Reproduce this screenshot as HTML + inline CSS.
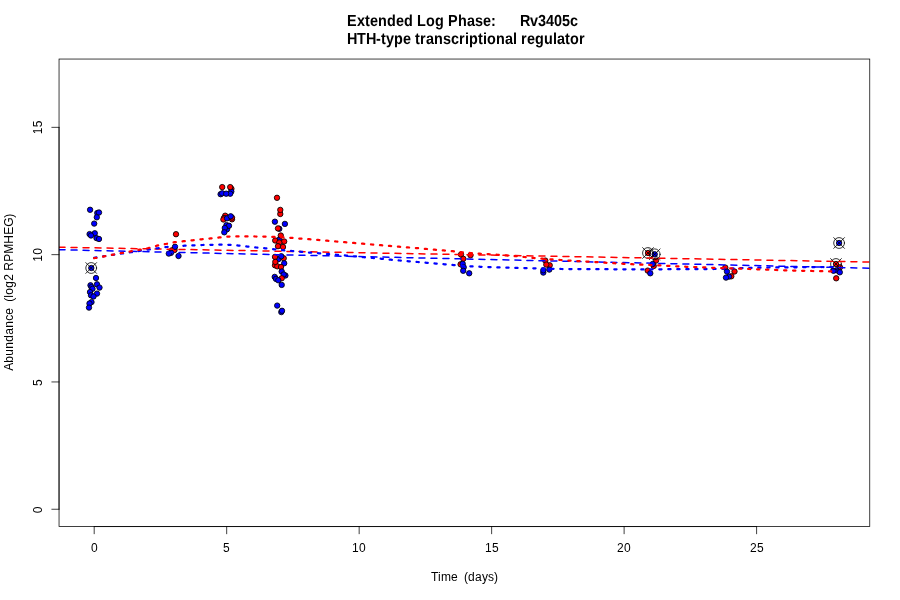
<!DOCTYPE html>
<html lang="en">
<head>
<meta charset="utf-8">
<title>Extended Log Phase: Rv3405c</title>
<style>
html,body{margin:0;padding:0;background:#fff;}
body{width:900px;height:600px;overflow:hidden;}
text{white-space:pre;}
svg{display:block;font-family:"Liberation Sans",Arial,Helvetica,sans-serif;}
.ax{stroke:#000;stroke-width:0.75;fill:none;stroke-linecap:round;}
.lab{font-size:12px;fill:#000;}
.ttl{font-weight:bold;fill:#000;text-rendering:geometricPrecision;}
.pt circle{stroke:#000;stroke-width:0.85;}
.r{fill:#f00;}
.b{fill:#00f;}
.mk{fill:none;stroke:#000;stroke-width:0.8;stroke-linecap:round;}
.dash{fill:none;stroke-width:1.5;stroke-dasharray:6 6;stroke-linecap:round;stroke-linejoin:round;}
.dot{fill:none;stroke-width:2.25;stroke-dasharray:2.25 6.75;stroke-linecap:round;stroke-linejoin:round;}
</style>
</head>
<body>
<svg width="900" height="600" viewBox="0 0 900 600">
<rect x="0" y="0" width="900" height="600" fill="#fff"/>
<defs><clipPath id="plot"><rect x="59.04" y="59.04" width="810.72" height="467.52"/></clipPath></defs>

<g transform="scale(0.9000,1)" style="font-size:16.0px">
<text class="ttl" x="385.56 396.67 405.56 411.11 420.00 430.00 440.00 448.89 458.89 463.33 473.33 483.33 493.33 497.78 508.89 518.89 527.78 536.67 545.56 551.11 555.56 560.00 564.44 568.89 573.33 577.78 588.89 597.78 606.67 615.56 624.44 633.33" y="26" xml:space="preserve">Extended Log Phase:      Rv3405c</text>
<text class="ttl" x="385.56 396.67 406.67 417.78 423.33 428.89 437.78 447.78 456.67 461.11 466.67 473.33 482.22 492.22 501.11 510.00 516.67 521.11 531.11 536.67 541.11 551.11 561.11 570.00 574.44 578.89 585.56 594.44 604.44 614.44 618.89 627.78 633.33 643.33" y="44" xml:space="preserve">HTH-type transcriptional regulator</text>
</g>
<g clip-path="url(#plot)">
<g class="pt">
<circle class="b" cx="90.1" cy="209.8" r="2.7"/>
<circle class="b" cx="97.3" cy="213.0" r="2.7"/>
<circle class="b" cx="99.0" cy="212.5" r="2.7"/>
<circle class="b" cx="96.8" cy="217.3" r="2.7"/>
<circle class="b" cx="94.2" cy="223.6" r="2.7"/>
<circle class="b" cx="94.8" cy="233.3" r="2.7"/>
<circle class="b" cx="89.6" cy="234.1" r="2.7"/>
<circle class="b" cx="91.0" cy="235.5" r="2.7"/>
<circle class="b" cx="96.5" cy="238.1" r="2.7"/>
<circle class="b" cx="99.0" cy="239.0" r="2.7"/>
<circle class="b" cx="91.3" cy="268.0" r="2.7"/>
<circle class="b" cx="96.0" cy="278.0" r="2.7"/>
<circle class="b" cx="90.5" cy="285.3" r="2.7"/>
<circle class="b" cx="91.5" cy="287.1" r="2.7"/>
<circle class="b" cx="97.0" cy="284.3" r="2.7"/>
<circle class="b" cx="99.5" cy="287.6" r="2.7"/>
<circle class="b" cx="92.5" cy="288.8" r="2.7"/>
<circle class="b" cx="90.0" cy="292.1" r="2.7"/>
<circle class="b" cx="97.0" cy="293.6" r="2.7"/>
<circle class="b" cx="91.0" cy="295.3" r="2.7"/>
<circle class="b" cx="93.5" cy="296.5" r="2.7"/>
<circle class="b" cx="91.5" cy="302.1" r="2.7"/>
<circle class="b" cx="89.5" cy="303.5" r="2.7"/>
<circle class="b" cx="89.0" cy="307.6" r="2.7"/>
<circle class="r" cx="176.0" cy="234.2" r="2.7"/>
<circle class="r" cx="172.0" cy="250.3" r="2.7"/>
<circle class="r" cx="174.5" cy="250.0" r="2.7"/>
<circle class="b" cx="175.0" cy="246.8" r="2.7"/>
<circle class="b" cx="171.0" cy="252.8" r="2.7"/>
<circle class="b" cx="168.8" cy="253.6" r="2.7"/>
<circle class="b" cx="178.5" cy="256.0" r="2.7"/>
<circle class="r" cx="231.4" cy="188.8" r="2.7"/>
<circle class="b" cx="231.3" cy="191.5" r="2.7"/>
<circle class="r" cx="222.2" cy="187.1" r="2.7"/>
<circle class="r" cx="230.2" cy="187.1" r="2.7"/>
<circle class="b" cx="220.6" cy="194.2" r="2.7"/>
<circle class="b" cx="222.2" cy="193.3" r="2.7"/>
<circle class="b" cx="230.2" cy="193.7" r="2.7"/>
<circle class="b" cx="226.2" cy="193.7" r="2.7"/>
<circle class="r" cx="225.2" cy="215.7" r="2.7"/>
<circle class="r" cx="224.0" cy="218.0" r="2.7"/>
<circle class="r" cx="223.4" cy="219.5" r="2.7"/>
<circle class="r" cx="232.0" cy="219.3" r="2.7"/>
<circle class="r" cx="232.0" cy="217.6" r="2.7"/>
<circle class="b" cx="227.0" cy="218.3" r="2.7"/>
<circle class="b" cx="230.7" cy="216.3" r="2.7"/>
<circle class="b" cx="226.5" cy="225.1" r="2.7"/>
<circle class="b" cx="227.0" cy="229.3" r="2.7"/>
<circle class="b" cx="229.0" cy="225.8" r="2.7"/>
<circle class="b" cx="224.8" cy="228.0" r="2.7"/>
<circle class="b" cx="224.3" cy="232.3" r="2.7"/>
<circle class="r" cx="277.0" cy="197.8" r="2.7"/>
<circle class="r" cx="280.3" cy="214.0" r="2.7"/>
<circle class="r" cx="280.3" cy="209.9" r="2.7"/>
<circle class="b" cx="274.9" cy="221.7" r="2.7"/>
<circle class="b" cx="284.9" cy="223.9" r="2.7"/>
<circle class="b" cx="279.3" cy="228.8" r="2.7"/>
<circle class="r" cx="278.0" cy="228.4" r="2.7"/>
<circle class="b" cx="279.3" cy="239.5" r="2.7"/>
<circle class="r" cx="280.8" cy="235.5" r="2.7"/>
<circle class="r" cx="275.2" cy="240.5" r="2.7"/>
<circle class="r" cx="284.2" cy="241.5" r="2.7"/>
<circle class="r" cx="279.3" cy="242.5" r="2.7"/>
<circle class="r" cx="278.0" cy="246.2" r="2.7"/>
<circle class="r" cx="283.0" cy="247.0" r="2.7"/>
<circle class="b" cx="278.3" cy="259.3" r="2.7"/>
<circle class="r" cx="283.7" cy="258.3" r="2.7"/>
<circle class="r" cx="275.0" cy="256.9" r="2.7"/>
<circle class="b" cx="281.3" cy="256.2" r="2.7"/>
<circle class="r" cx="275.0" cy="265.3" r="2.7"/>
<circle class="r" cx="277.3" cy="266.3" r="2.7"/>
<circle class="r" cx="275.3" cy="261.9" r="2.7"/>
<circle class="b" cx="284.2" cy="263.3" r="2.7"/>
<circle class="r" cx="281.0" cy="267.0" r="2.7"/>
<circle class="b" cx="281.7" cy="271.5" r="2.7"/>
<circle class="b" cx="285.4" cy="275.5" r="2.7"/>
<circle class="b" cx="283.7" cy="274.5" r="2.7"/>
<circle class="b" cx="274.7" cy="276.9" r="2.7"/>
<circle class="r" cx="281.7" cy="278.3" r="2.7"/>
<circle class="b" cx="276.0" cy="278.9" r="2.7"/>
<circle class="b" cx="278.3" cy="280.3" r="2.7"/>
<circle class="b" cx="281.7" cy="284.9" r="2.7"/>
<circle class="b" cx="277.2" cy="305.6" r="2.7"/>
<circle class="b" cx="281.3" cy="312.1" r="2.7"/>
<circle class="b" cx="282.0" cy="310.8" r="2.7"/>
<circle class="r" cx="461.0" cy="254.5" r="2.7"/>
<circle class="r" cx="470.5" cy="255.3" r="2.7"/>
<circle class="r" cx="460.6" cy="264.3" r="2.7"/>
<circle class="r" cx="463.3" cy="258.8" r="2.7"/>
<circle class="b" cx="462.7" cy="263.8" r="2.7"/>
<circle class="b" cx="463.7" cy="267.3" r="2.7"/>
<circle class="b" cx="463.2" cy="270.8" r="2.7"/>
<circle class="b" cx="469.2" cy="273.3" r="2.7"/>
<circle class="r" cx="545.3" cy="260.6" r="2.7"/>
<circle class="r" cx="549.7" cy="265.3" r="2.7"/>
<circle class="r" cx="546.3" cy="264.6" r="2.7"/>
<circle class="b" cx="543.3" cy="272.6" r="2.7"/>
<circle class="b" cx="543.3" cy="270.3" r="2.7"/>
<circle class="b" cx="549.3" cy="269.6" r="2.7"/>
<circle class="r" cx="648.0" cy="253.0" r="2.7"/>
<circle class="b" cx="654.7" cy="254.3" r="2.7"/>
<circle class="r" cx="656.0" cy="260.6" r="2.7"/>
<circle class="r" cx="653.7" cy="266.0" r="2.7"/>
<circle class="b" cx="652.7" cy="264.0" r="2.7"/>
<circle class="r" cx="647.7" cy="270.6" r="2.7"/>
<circle class="b" cx="650.3" cy="273.3" r="2.7"/>
<circle class="r" cx="725.3" cy="267.6" r="2.7"/>
<circle class="r" cx="734.5" cy="271.5" r="2.7"/>
<circle class="r" cx="731.3" cy="276.3" r="2.7"/>
<circle class="b" cx="727.0" cy="271.6" r="2.7"/>
<circle class="b" cx="729.0" cy="276.6" r="2.7"/>
<circle class="b" cx="726.0" cy="277.6" r="2.7"/>
<circle class="b" cx="839.1" cy="243.0" r="2.7"/>
<circle class="r" cx="836.0" cy="264.0" r="2.7"/>
<circle class="r" cx="840.0" cy="267.3" r="2.7"/>
<circle class="b" cx="836.5" cy="270.3" r="2.7"/>
<circle class="b" cx="833.5" cy="270.8" r="2.7"/>
<circle class="b" cx="839.8" cy="272.3" r="2.7"/>
<circle class="r" cx="836.2" cy="278.3" r="2.7"/>
</g>
<g class="mk">
<circle cx="91.2" cy="268.0" r="5.4"/><path d="M85.8,262.6L96.6,273.4M85.8,273.4L96.6,262.6"/>
<circle cx="648.0" cy="253.0" r="5.4"/><path d="M642.6,247.6L653.4,258.4M642.6,258.4L653.4,247.6"/>
<circle cx="654.7" cy="254.3" r="5.4"/><path d="M649.3,248.9L660.1,259.7M649.3,259.7L660.1,248.9"/>
<circle cx="839.1" cy="243.0" r="5.4"/><path d="M833.7,237.6L844.5,248.4M833.7,248.4L844.5,237.6"/>
<circle cx="836.0" cy="264.0" r="5.4"/><path d="M830.6,258.6L841.4,269.4M830.6,269.4L841.4,258.6"/>
</g>
<path class="dash" stroke="#f00" d="M59.04,247.2 L869.76,262.05"/>
<path class="dash" stroke="#00f" d="M59.04,249.7 L869.76,268.2"/>
<path class="dot" stroke="#00f" d="M94.20,257.80 L104.10,256.20 L113.00,254.80 L121.70,253.50 L130.80,252.20 L139.70,250.90 L148.00,249.60 L157.80,248.30 L166.50,247.00 L175.50,246.20 L184.50,245.70 L193.50,245.30 L202.50,245.00 L211.50,244.80 L220.50,244.60 L229.50,244.80 L238.50,245.60 L247.30,246.60 L256.30,247.50 L265.00,248.30 L274.00,249.30 L282.80,250.20 L292.00,251.00 L301.10,251.80 L310.00,252.60 L318.90,253.30 L327.80,254.10 L336.90,254.80 L346.10,255.60 L355.00,256.40 L363.90,257.20 L372.80,257.90 L381.70,258.80 L390.90,259.70 L399.80,260.50 L408.90,261.30 L417.80,262.00 L426.90,262.80 L435.80,263.60 L444.70,264.30 L453.60,265.10 L462.00,265.80 L471.70,266.40 L480.60,266.80 L489.40,267.10 L498.30,267.40 L507.40,267.70 L516.30,267.90 L525.60,268.10 L534.70,268.30 L543.50,268.50 L552.80,268.80 L561.70,269.00 L600.00,269.20 L642.80,269.40 L651.70,269.30 L695.00,269.10 L713.90,269.00 L730.00,268.60 L741.70,268.10 L751.00,267.90 L760.00,267.70 L768.90,267.50 L777.80,267.40 L786.70,267.40 L795.60,267.30 L804.40,267.20 L822.00,267.00 L831.00,267.00 L836.10,267.00"/>
<path class="dot" stroke="#f00" d="M94.20,258.20 L95.30,258.00 L104.10,256.40 L113.00,254.70 L121.70,253.00 L130.80,251.40 L139.70,249.70 L148.30,248.10 L157.00,245.70 L165.80,244.00 L174.70,242.20 L183.70,241.20 L192.50,240.30 L201.50,239.30 L210.50,238.40 L219.50,237.40 L228.50,236.60 L237.50,236.40 L246.30,236.40 L255.30,236.50 L264.30,236.60 L273.00,236.90 L282.00,237.30 L291.10,237.80 L300.20,238.60 L309.20,239.20 L318.10,239.90 L327.20,240.70 L336.10,241.50 L345.00,242.20 L353.90,242.90 L362.80,243.70 L371.70,244.50 L381.10,245.20 L390.00,245.90 L398.90,246.70 L407.80,247.40 L416.90,248.10 L425.90,248.90 L434.80,249.70 L443.70,250.40 L452.80,251.20 L461.70,252.20 L470.60,253.00 L479.80,253.70 L488.70,254.20 L497.60,254.80 L506.40,255.40 L515.60,256.10 L524.40,257.00 L533.30,257.90 L542.80,258.70 L551.70,259.40 L560.60,260.00 L569.40,260.60 L578.30,261.10 L587.40,261.60 L596.40,262.10 L605.20,262.70 L614.20,263.20 L623.30,263.80 L632.20,264.20 L641.10,264.70 L650.00,265.00 L658.90,265.40 L668.00,265.90 L677.00,266.30 L686.10,266.80 L695.00,267.10 L704.10,267.40 L713.10,267.80 L722.20,268.10 L731.10,268.30 L740.20,268.70 L749.40,269.00 L758.30,269.30 L767.20,269.70 L776.10,270.00 L785.00,270.30 L794.10,270.60 L803.10,270.80 L812.20,271.00 L821.10,271.20 L830.00,271.40 L836.10,271.50"/>
</g>
<g class="ax">
<path d="M94.20,526.56 L756.60,526.56"/>
<line x1="94.20" y1="526.56" x2="94.20" y2="533.76" />
<line x1="226.68" y1="526.56" x2="226.68" y2="533.76" />
<line x1="359.16" y1="526.56" x2="359.16" y2="533.76" />
<line x1="491.64" y1="526.56" x2="491.64" y2="533.76" />
<line x1="624.12" y1="526.56" x2="624.12" y2="533.76" />
<line x1="756.60" y1="526.56" x2="756.60" y2="533.76" />
<path d="M59.04,509.25 L59.04,127.35"/>
<line x1="59.04" y1="509.25" x2="51.84" y2="509.25" />
<line x1="59.04" y1="381.95" x2="51.84" y2="381.95" />
<line x1="59.04" y1="254.65" x2="51.84" y2="254.65" />
<line x1="59.04" y1="127.35" x2="51.84" y2="127.35" />
<rect x="59.04" y="59.04" width="810.72" height="467.52"/>
</g>
<g class="lab">
<text x="91" y="552">0</text>
<text x="223" y="552">5</text>
<text x="352 359" y="552">10</text>
<text x="485 492" y="552">15</text>
<text x="617 624" y="552">20</text>
<text x="750 757" y="552">25</text>
<text transform="translate(41.8,509.25) rotate(-90)" x="-4" y="0">0</text>
<text transform="translate(41.8,381.95) rotate(-90)" x="-4" y="0">5</text>
<text transform="translate(41.8,254.65) rotate(-90)" x="-7 0" y="0">10</text>
<text transform="translate(41.8,127.35) rotate(-90)" x="-7 0" y="0">15</text>
<text x="431 438 441 451 458 461 464 468 475 482 488 494" y="580.8" xml:space="preserve">Time  (days)</text>
<text transform="translate(13.2,292.8) rotate(-90)" x="-78 -70 -63 -56 -49 -42 -35 -28 -22 -15 -12 -9 -5 -2 5 12 19 22 31 39 49 58 66 75" y="0" xml:space="preserve">Abundance  (log2 RPMHEG)</text>
</g>
</svg>
</body>
</html>
